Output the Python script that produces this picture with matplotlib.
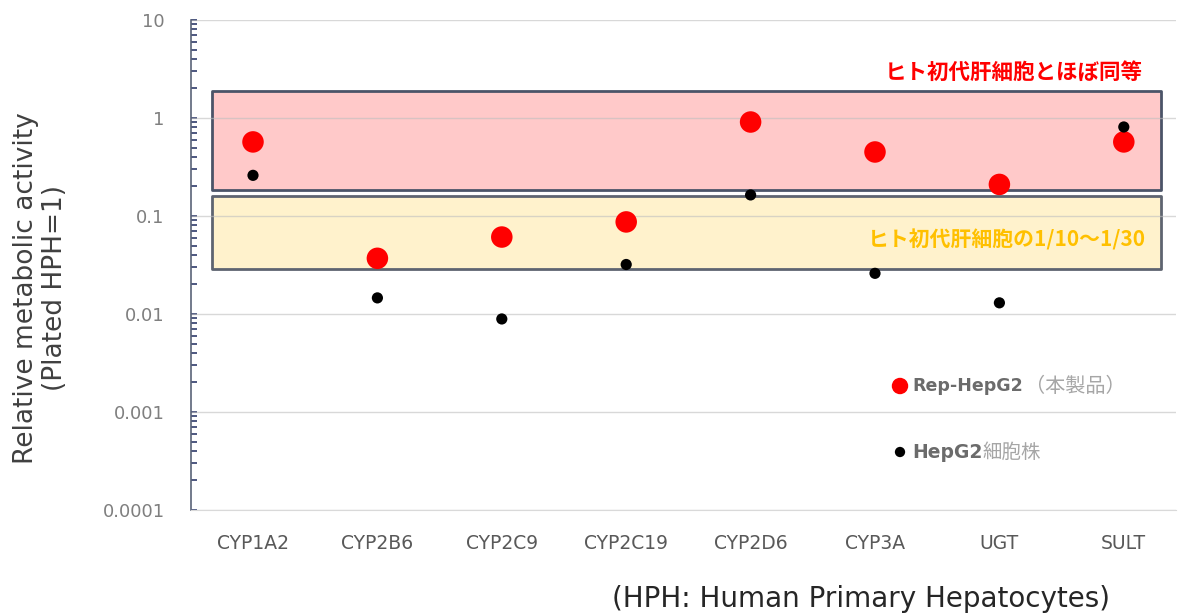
import matplotlib
matplotlib.use("Agg")
import matplotlib.pyplot as plt
import numpy as np
from matplotlib.ticker import LogLocator, FixedLocator, NullFormatter

# --- data ---
categories = ["CYP1A2", "CYP2B6", "CYP2C9", "CYP2C19", "CYP2D6", "CYP3A", "UGT", "SULT"]
rep_hepg2 = [0.57, 0.037, 0.061, 0.087, 0.91, 0.45, 0.21, 0.57]
hepg2 = [0.26, 0.0146, 0.0089, 0.032, 0.164, 0.026, 0.013, 0.81]

same_band = [0.184, 1.89]     # ~ equal to human primary hepatocytes
tenth_band = [0.0288, 0.16]   # 1/10 - 1/30 of human primary hepatocytes
y_ticks = [0.0001, 0.001, 0.01, 0.1, 1, 10]
y_ticklabels = ["0.0001", "0.001", "0.01", "0.1", "1", "10"]

W, H = 1178, 614
JP = ["Noto Sans CJK JP", "DejaVu Sans"]
LAT = ["DejaVu Sans", "Noto Sans CJK JP"]


def fx(x):
    return x / W


def fy(y):
    return 1 - y / H


fig = plt.figure(figsize=(W / 100, H / 100), dpi=100)
ax = fig.add_axes([fx(191), fy(510), fx(1176) - fx(191), fy(20) - fy(510)])

# x mapping: category i at pixel 253 + i*124.4
step = 124.4
ax.set_xlim((191 - 253) / step, (1176 - 253) / step)
ax.set_yscale("log")
ax.set_ylim(1e-4, 10)

x = np.arange(len(categories))

# bands
bx0, bx1 = (212 - 253) / step, (1161 - 253) / step
ax.fill_between([bx0, bx1], same_band[0], same_band[1], facecolor="#FFC9C9",
                edgecolor="#4B5468", linewidth=2, zorder=1)
ax.fill_between([bx0, bx1], tenth_band[0], tenth_band[1], facecolor="#FFF2CC",
                edgecolor="#5E6470", linewidth=2, zorder=1)

# gridlines
for t in y_ticks:
    ax.axhline(t, color="#BFBFBF", linewidth=1, alpha=0.6, zorder=2)

ax.scatter(x, rep_hepg2, s=240, color="#FF0000", edgecolor="none", zorder=4)
ax.scatter(x, hepg2, s=65, color="#000000", edgecolor="none", zorder=5)

# axes styling
for side in ["top", "right"]:
    ax.spines[side].set_visible(False)
ax.spines["bottom"].set_color("#D9D9D9")
ax.spines["left"].set_color("#5A6378")
ax.spines["left"].set_linewidth(1.2)

ax.yaxis.set_major_locator(FixedLocator(y_ticks))
ax.set_yticklabels(y_ticklabels)
ax.yaxis.set_minor_locator(LogLocator(base=10, subs=np.arange(2, 10)))
ax.yaxis.set_minor_formatter(NullFormatter())
ax.tick_params(axis="y", which="both", direction="in", color="#2F3B6B",
               length=4, width=1.2, labelsize=13, labelcolor="#7F7F7F", pad=19)

ax.set_xticks(x)
ax.set_xticklabels(categories, fontsize=13.5, color="#595959")
ax.tick_params(axis="x", length=0, pad=17)

# y label
fig.text(fx(41), fy(288), "Relative metabolic activity\n(Plated HPH=1)",
         rotation=90, ha="center", va="center", fontsize=19, color="#404040",
         linespacing=1.15)

# band labels
fig.text(fx(1143), fy(72), "ヒト初代肝細胞とほぼ同等", family=JP, fontsize=15.5,
         fontweight="bold", color="#FF0000", ha="right", va="center")
fig.text(fx(1146), fy(240), "ヒト初代肝細胞の1/10～1/30", family=JP, fontsize=15,
         fontweight="bold", color="#FFC000", ha="right", va="center")

# legend drawn by hand
ax.scatter([fx(900)], [fy(386)], s=140, color="#FF0000", edgecolor="none",
           transform=fig.transFigure, clip_on=False, zorder=6)
ax.scatter([fx(900)], [fy(452)], s=55, color="#000000", edgecolor="none",
           transform=fig.transFigure, clip_on=False, zorder=6)
t1 = fig.text(fx(912), fy(386), "Rep-HepG2", family=LAT, fontsize=12.5,
              fontweight="bold", color="#6B6B6B", ha="left", va="center")
t2 = fig.text(fx(912), fy(452), "HepG2", family=LAT, fontsize=13.5,
              fontweight="bold", color="#6B6B6B", ha="left", va="center")
fig.canvas.draw()
r = fig.canvas.get_renderer()
bb1 = t1.get_window_extent(r)
fig.text(bb1.x1 / W + 0.002, fy(386), "（本製品）", family=JP, fontsize=14.5,
         color="#A6A6A6", ha="left", va="center")
bb2 = t2.get_window_extent(r)
fig.text(bb2.x1 / W, fy(452), "細胞株", family=JP, fontsize=14,
         color="#A6A6A6", ha="left", va="center")

fig.text(fx(612), fy(599), "(HPH: Human Primary Hepatocytes)", fontsize=20,
         color="#262626", ha="left", va="center")

fig.savefig("out.png", dpi=100)
